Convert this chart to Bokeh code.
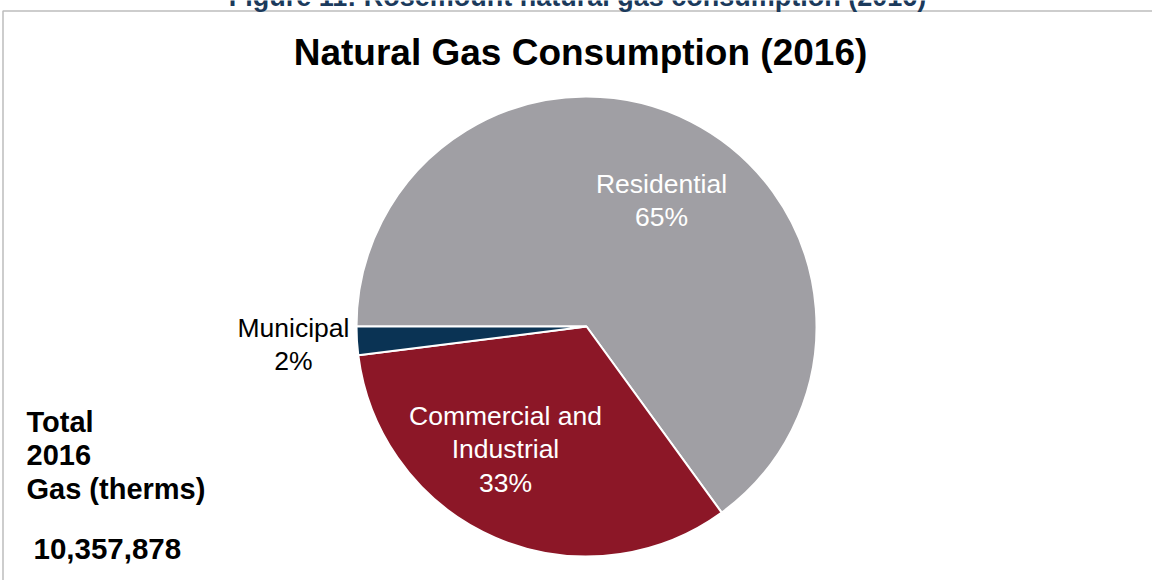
import math
from bokeh.plotting import figure
from bokeh.models import ColumnDataSource, Range1d
from bokeh.core.properties import value
from bokeh.embed import file_html
from bokeh.resources import INLINE

# ---- data ----
categories = ["Residential", "Commercial and Industrial", "Municipal"]
display_labels = ["Residential", "Commercial and\nIndustrial", "Municipal"]
shares = [65, 33, 2]
colors = ["#A09FA4", "#8C1727", "#0A3354"]
title_text = "Natural Gas Consumption (2016)"
caption_text = "Figure 11: Rosemount natural gas consumption (2016)"
total_label = "Total\n2016\nGas (therms)"
total_value = 10357878

W, H = 1152, 580
FONT = "Liberation Sans"

p = figure(width=W, height=H, output_backend="svg", toolbar_location=None,
           x_range=Range1d(0, W), y_range=Range1d(0, H), min_border=0)
p.axis.visible = False
p.grid.visible = False
p.outline_line_color = None
p.background_fill_color = "white"
p.border_fill_color = "white"

def Y(py):
    return H - py

# frame box
p.quad(left=[2.5], right=[1170], top=[Y(10.5)], bottom=[-30],
       fill_color=None, line_color="#BDBDBD", line_width=1.5)

# pie
cx, cy, r = 586, Y(326), 230
total = sum(shares)
starts, ends = [], []
cum = 0.0
for s in shares:
    starts.append(math.pi - 2 * math.pi * cum / total)
    cum += s
    ends.append(math.pi - 2 * math.pi * cum / total)
src = ColumnDataSource(dict(start=starts, end=ends, color=colors, cat=categories))
p.wedge(x=cx, y=cy, radius=r, start_angle="start", end_angle="end",
        direction="clock", fill_color="color", line_color="white",
        line_width=2, source=src)

# slice labels
label_pos = [(661, 200), (505, 449), (293, 344)]
label_colors = ["white", "white", "black"]
for lab, sh, (lx, ly), lc in zip(display_labels, shares, label_pos, label_colors):
    p.text(x=[lx], y=[Y(ly)], text=[f"{lab}\n{sh}%"], text_align="center",
           text_baseline="middle", text_font=value(FONT), text_font_size="26.5px",
           text_color=lc, text_line_height=1.12)

# title
p.text(x=[580], y=[Y(52)], text=[title_text], text_align="center",
       text_baseline="middle", text_font=value(FONT), text_font_size="37px",
       text_font_style="bold", text_color="black")

# caption (cut off at top, as in the reference)
p.text(x=[577], y=[Y(-4)], text=[caption_text], text_align="center",
       text_baseline="alphabetic", text_font=value(FONT), text_font_size="27px",
       text_font_style="bold", text_color="#1B3A5C")

# total block
p.text(x=[26], y=[Y(455)], text=[total_label], text_align="left",
       text_baseline="middle", text_font=value(FONT), text_font_size="29px",
       text_font_style="bold", text_color="black", text_line_height=1.05)
p.text(x=[33], y=[Y(548)], text=[f"{total_value:,}"], text_align="left",
       text_baseline="middle", text_font=value(FONT), text_font_size="29.5px",
       text_font_style="bold", text_color="black")

open("out.html", "w").write(file_html(p, INLINE))
